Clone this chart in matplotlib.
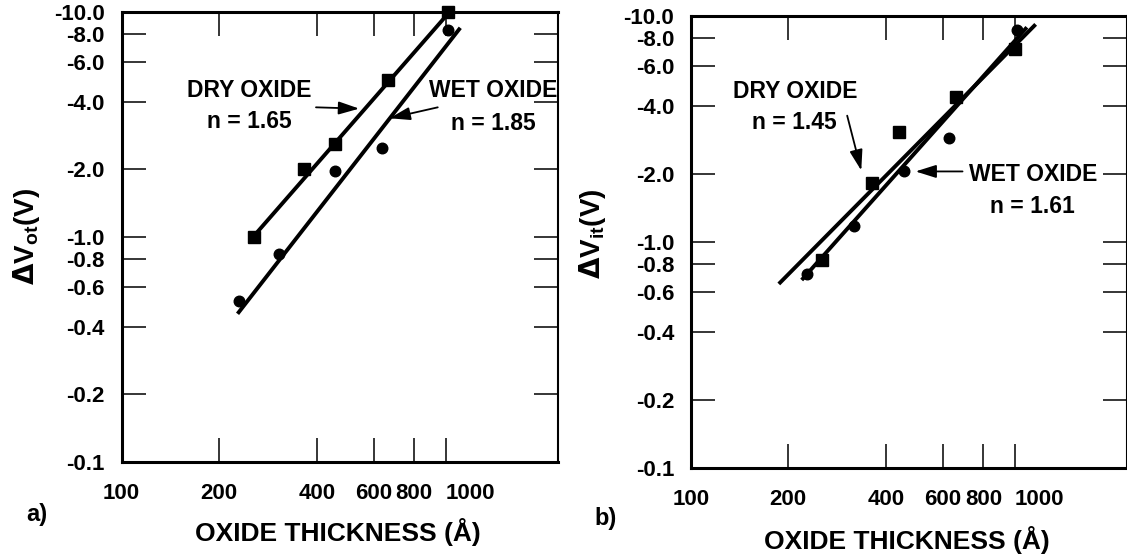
import numpy as np
import matplotlib.pyplot as plt
from matplotlib.ticker import NullLocator

plt.rcParams['font.family'] = ['Liberation Sans', 'DejaVu Sans']
plt.rcParams['font.weight'] = 'bold'
plt.rcParams['mathtext.fontset'] = 'custom'
plt.rcParams['mathtext.rm'] = 'DejaVu Sans'
plt.rcParams['mathtext.bf'] = 'Liberation Sans:bold'

# oxide thickness (A) and |shift| (V); a) oxide-trapped charge, b) interface traps
dry_a_x = [256, 366, 456, 665, 1018]
dry_a_y = [1.0, 2.0, 2.58, 5.0, 10.0]
wet_a_x = [230, 307, 456, 637, 1016]
wet_a_y = [0.52, 0.84, 1.97, 2.48, 8.3]

dry_b_x = [254, 362, 438, 658, 1002]
dry_b_y = [0.83, 1.83, 3.07, 4.36, 7.15]
wet_b_x = [228, 320, 456, 626, 1019]
wet_b_y = [0.72, 1.18, 2.06, 2.88, 8.7]

# power-law fits: exponent, x range, anchor point
fit_dry_a = dict(n=1.65, x=[256, 1020], anchor=(511, 3.16))
fit_wet_a = dict(n=1.85, x=[228, 1109], anchor=(503, 1.97))
fit_dry_b = dict(n=1.45, x=[187, 1160], anchor=(466, 2.447))
fit_wet_b = dict(n=1.61, x=[220, 1090], anchor=(490, 2.46))

x_ticks = [100, 200, 400, 600, 800, 1000]
x_tick_labels = ['100', '200', '400', '600', '800', '1000']
y_ticks = [0.1, 0.2, 0.4, 0.6, 0.8, 1.0, 2.0, 4.0, 6.0, 8.0, 10.0]
y_tick_labels = ['-0.1', '-0.2', '-0.4', '-0.6', '-0.8', '-1.0',
                 '-2.0', '-4.0', '-6.0', '-8.0', '-10.0']


def fit_line(fit):
    xs = np.array(fit['x'], dtype=float)
    x0, y0 = fit['anchor']
    return xs, y0 * (xs / x0) ** fit['n']


def style_axes(ax):
    ax.set_xscale('log')
    ax.set_yscale('log')
    ax.set_xlim(100, 2220)
    ax.set_ylim(0.1, 10)
    ax.set_xticks(x_ticks, x_tick_labels)
    ax.set_yticks(y_ticks, y_tick_labels)
    ax.xaxis.set_minor_locator(NullLocator())
    ax.yaxis.set_minor_locator(NullLocator())
    ax.get_xticklabels()[-1].set_horizontalalignment('left')
    ax.tick_params(axis='both', which='major', direction='in', length=17,
                   width=1.1, labelsize=16, top=True, right=True)
    ax.tick_params(axis='x', pad=15)
    ax.tick_params(axis='y', pad=12)
    for side in ['left', 'top', 'bottom']:
        ax.spines[side].set_linewidth(2.2)
    ax.spines['right'].set_linewidth(1.5)


def draw_panel(ax, dx, dy, wx, wy, fd, fw):
    xs, ys = fit_line(fd)
    ax.plot(xs, ys, color='black', lw=2.8, solid_capstyle='butt')
    xs, ys = fit_line(fw)
    ax.plot(xs, ys, color='black', lw=2.8, solid_capstyle='butt')
    ax.plot(dx, dy, 's', color='black', ms=8, clip_on=False)
    ax.plot(wx, wy, 'o', color='black', ms=7.6, clip_on=False)


arrow = dict(arrowstyle='-|>,head_length=0.7,head_width=0.22', lw=1.3,
             color='black', mutation_scale=18, shrinkA=0, shrinkB=0)

fig = plt.figure(figsize=(11.27, 5.59), dpi=100)
ax_a = fig.add_axes([0.10781, 0.17352, 0.38731, 0.80501])
ax_b = fig.add_axes([0.61287, 0.16333, 0.38713, 0.80805])

# panel a
style_axes(ax_a)
draw_panel(ax_a, dry_a_x, dry_a_y, wet_a_x, wet_a_y, fit_dry_a, fit_wet_a)
ax_a.text(247, 4.47, 'DRY OXIDE', fontsize=16.5, ha='center', va='center')
ax_a.text(247, 3.25, f"n = {fit_dry_a['n']:.2f}", fontsize=16.5, ha='center', va='center')
ax_a.annotate('', xy=(541, 3.72), xytext=(398, 3.77), arrowprops=arrow)
ax_a.text(1402, 4.47, 'WET OXIDE', fontsize=16.5, ha='center', va='center')
ax_a.text(1402, 3.21, f"n = {fit_wet_a['n']:.2f}", fontsize=16.5, ha='center', va='center')
ax_a.annotate('', xy=(671, 3.37), xytext=(945, 3.77), arrowprops=arrow)

# panel b
style_axes(ax_b)
draw_panel(ax_b, dry_b_x, dry_b_y, wet_b_x, wet_b_y, fit_dry_b, fit_wet_b)
ax_b.text(210, 4.64, 'DRY OXIDE', fontsize=16.5, ha='center', va='center')
ax_b.text(209, 3.38, f"n = {fit_dry_b['n']:.2f}", fontsize=16.5, ha='center', va='center')
ax_b.annotate('', xy=(336, 2.07), xytext=(304, 3.62), arrowprops=arrow)
ax_b.text(1137, 1.98, 'WET OXIDE', fontsize=16.5, ha='center', va='center')
ax_b.text(1131, 1.43, f"n = {fit_wet_b['n']:.2f}", fontsize=16.5, ha='center', va='center')
ax_b.annotate('', xy=(494, 2.05), xytext=(690, 2.05), arrowprops=arrow)

# axis titles and panel letters
fig.text(0.0231, 0.5766, r'$\Delta\mathbf{V}_{\mathbf{ot}}\mathbf{(V)}$', fontsize=20,
         rotation=90, ha='center', va='center')
fig.text(0.5253, 0.5823, r'$\Delta\mathbf{V}_{\mathbf{it}}\mathbf{(V)}$', fontsize=20,
         rotation=90, ha='center', va='center')
fig.text(0.2995, 0.0478, 'OXIDE THICKNESS (Å)', fontsize=19, ha='center', va='center')
fig.text(0.805, 0.034, 'OXIDE THICKNESS (Å)', fontsize=19, ha='center', va='center')
fig.text(0.0325, 0.0805, 'a)', fontsize=17, ha='center', va='center')
fig.text(0.5377, 0.0733, 'b)', fontsize=17, ha='center', va='center')

fig.savefig('out.png', dpi=100)
